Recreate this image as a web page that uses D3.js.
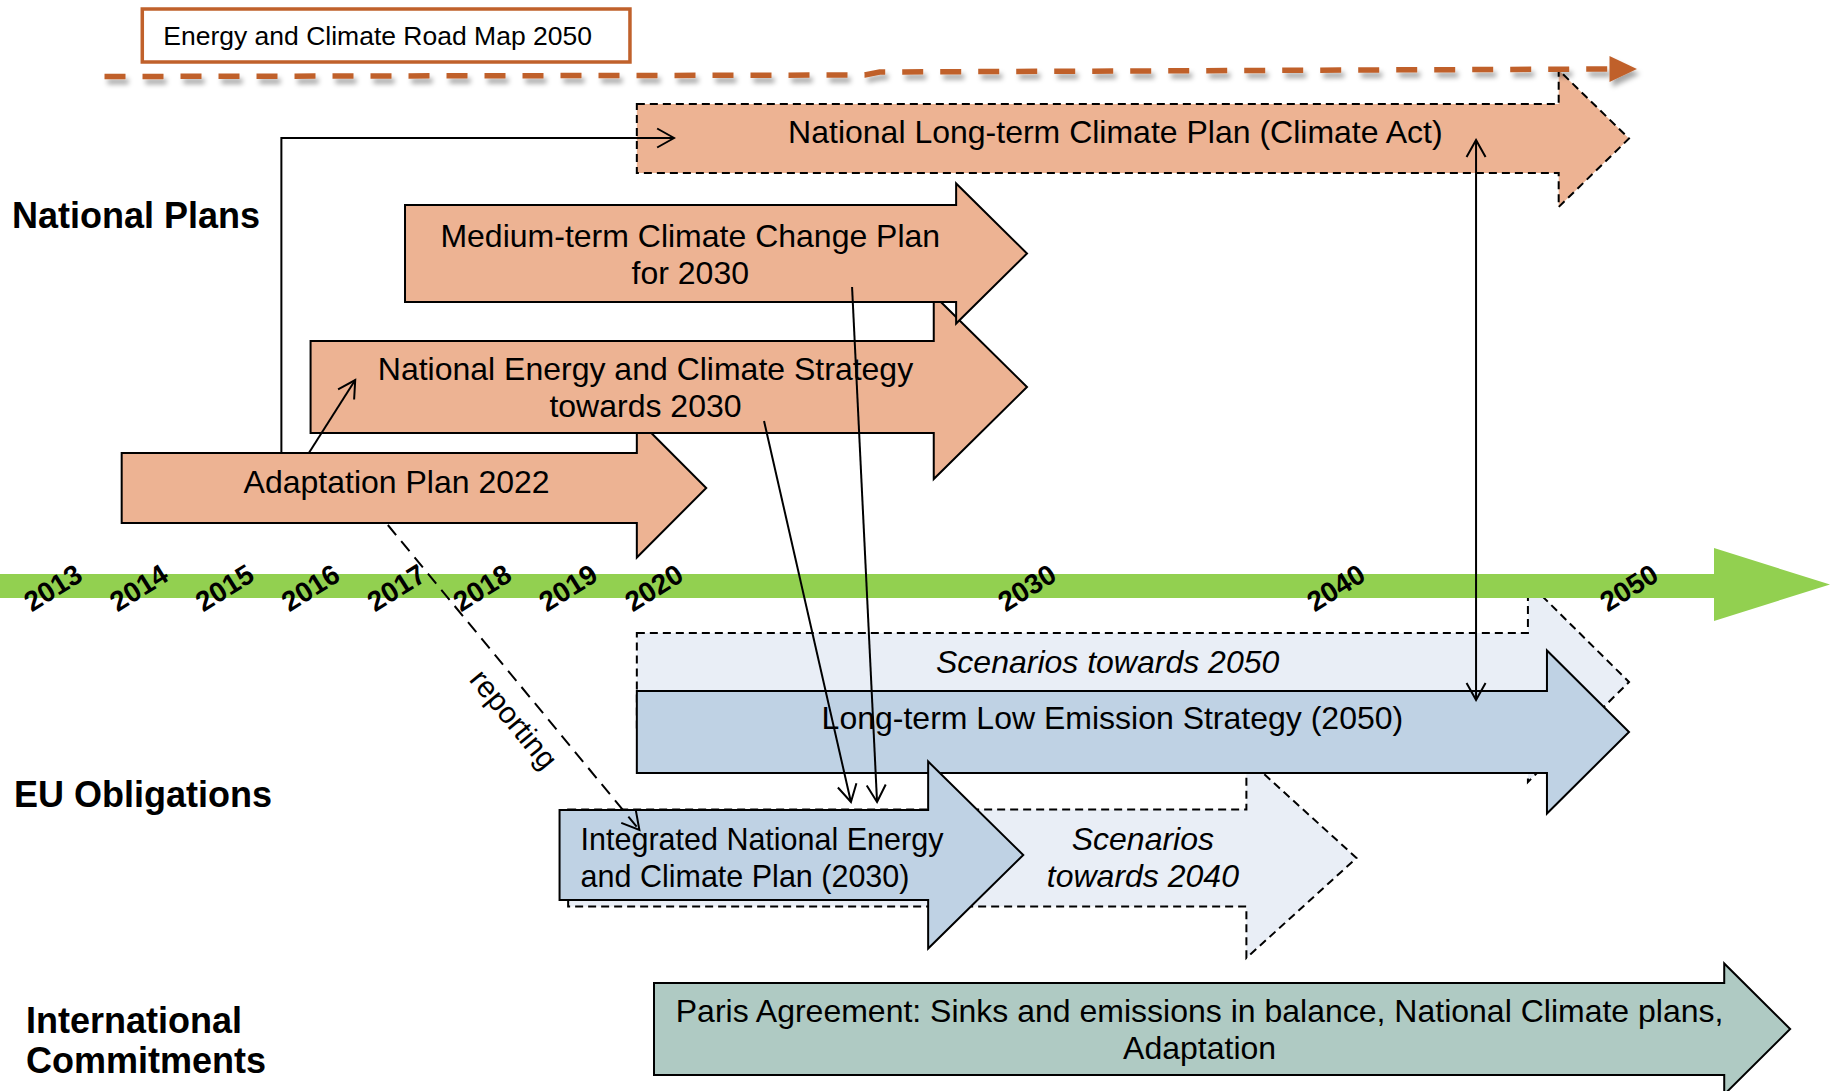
<!DOCTYPE html>
<html>
<head>
<meta charset="utf-8">
<title>Energy and Climate Road Map 2050</title>
<style>
body{margin:0;background:#fff;}
svg{display:block;font-family:"Liberation Sans",Arial,sans-serif;}
.lbl{font-size:32px;fill:#000;}
.sect{font-size:36px;font-weight:bold;fill:#000;}
.yr{font-size:28px;font-weight:bold;fill:#000;}
.link{fill:none;stroke:#000;stroke-width:2px;}
</style>
<script src="https://cdn.jsdelivr.net/npm/d3@7"></script>
</head>
<body>
<div id="chart"></div>
<script>
var width = 1830, height = 1091;

// timeline ticks and the anchor years of the (broken) time scale
var years = [2013, 2014, 2015, 2016, 2017, 2018, 2019, 2020, 2030, 2040, 2050];
var anchorYears = [2013, 2020, 2030, 2040, 2050];

// plan arrows: start year, year where the head starts, tip year
var arrowIds   = ["s2050", "s2040", "adapt", "necs", "mid", "nltcp", "lts", "necp", "paris"];
var arrowStart = [2019.8, 2019.0, 2013.8, 2016.0, 2017.1, 2019.8, 2019.8, 2018.9, 2020.0];
var arrowNeck  = [2046.55, 2037.1, 2019.8, 2027.5, 2028.1, 2047.6, 2047.2, 2027.35, 2053.25];
var arrowTip   = [2050.0, 2040.7, 2021.4, 2030.0, 2030.0, 2050.0, 2050.0, 2029.9, 2055.5];
var arrowText  = [
  ["Scenarios towards 2050"],
  ["Scenarios", "towards 2040"],
  ["Adaptation Plan 2022"],
  ["National Energy and Climate Strategy", "towards 2030"],
  ["Medium-term Climate Change Plan", "for 2030"],
  ["National Long-term Climate Plan (Climate Act)"],
  ["Long-term Low Emission Strategy (2050)"],
  ["Integrated National Energy", "and Climate Plan (2030)"],
  ["Paris Agreement: Sinks and emissions in balance, National Climate plans,", "Adaptation"]
];

var sections = [["National Plans"], ["EU Obligations"], ["International", "Commitments"]];

// connectors between plans: [year, y] points
var linkPts = [
  [[2015.66, 453], [2015.66, 138], [2020.54, 138]],
  [[2015.98, 453], [2016.52, 380]],
  [[2025.31, 287], [2025.98, 802]],
  [[2022.95, 421], [2025.28, 802]],
  [[2044.78, 140], [2044.78, 700]]
];
var reportPts = [[2016.9, 525], [2019.83, 830]];

// road map line
var roadYears = [2013.6, 2025.65, 2026.05, 2049.3];
var roadTipYear = 2050.27;
var roadBoxYears = [2014.04, 2019.72];
var roadTitle = "Energy and Climate Road Map 2050";

// --- layout / style ---
var lane = {
  s2050: {cy: 682, bh: 49, hh: 100, fill: "#E9EEF6", dash: true, base: 673, italic: true},
  s2040: {cy: 858, bh: 48.5, hh: 100, fill: "#E9EEF6", dash: true, base: 850, italic: true, at: 2033.75},
  adapt: {cy: 488, bh: 35, hh: 69.5, fill: "#EDB393", base: 493},
  necs:  {cy: 387, bh: 46, hh: 92, fill: "#EDB393", base: 380},
  mid:   {cy: 253.5, bh: 48.5, hh: 70, fill: "#EDB393", base: 247, shift: -8},
  nltcp: {cy: 138.5, bh: 34.5, hh: 68.5, fill: "#EDB393", dash: true, base: 143},
  lts:   {cy: 732, bh: 41, hh: 81.5, fill: "#BFD2E4", base: 729},
  necp:  {cy: 855, bh: 45, hh: 93.5, fill: "#BFD2E4", base: 850, left: 21, size: 30.5},
  paris: {cy: 1029, bh: 46, hh: 65.5, fill: "#AFCAC3", base: 1022, shift: -6}
};
var lineH = 36.5;
var sectPos = [{x: 12, y: 228}, {x: 14, y: 807}, {x: 26, y: 1033}];
var orange = "#C0612B";

var x = d3.scaleLinear().domain(anchorYears).range([53, 654, 1027, 1336, 1629]);

var svg = d3.select("#chart").append("svg")
  .attr("width", width).attr("height", height);

var defs = svg.append("defs");
defs.append("marker")
  .attr("id", "open").attr("markerUnits", "userSpaceOnUse")
  .attr("viewBox", "-20 -12 22 24").attr("markerWidth", 22).attr("markerHeight", 24)
  .attr("refX", 0).attr("refY", 0).attr("orient", "auto-start-reverse")
  .append("path").attr("d", "M-17,-9.5L0,0L-17,9.5")
  .attr("fill", "none").attr("stroke", "#000").attr("stroke-width", 2);
defs.append("filter").attr("id", "shadow")
  .attr("x", "-5%").attr("y", "-50%").attr("width", "110%").attr("height", "200%")
  .append("feDropShadow").attr("dx", 3).attr("dy", 5).attr("stdDeviation", 2.5)
  .attr("flood-color", "#000").attr("flood-opacity", 0.35);

var line = d3.line();

function arrowShape(x0, xn, xt, L) {
  return line([[x0, L.cy - L.bh], [xn, L.cy - L.bh], [xn, L.cy - L.hh], [xt, L.cy],
    [xn, L.cy + L.hh], [xn, L.cy + L.bh], [x0, L.cy + L.bh]]) + "Z";
}

function drawArrow(i) {
  var L = lane[arrowIds[i]];
  var x0 = x(arrowStart[i]), xn = x(arrowNeck[i]), xt = x(arrowTip[i]);
  var g = svg.append("g");
  g.append("path")
    .attr("d", arrowShape(x0, xn, xt, L))
    .attr("fill", L.fill)
    .attr("stroke", "#000")
    .attr("stroke-width", 2)
    .attr("stroke-dasharray", L.dash ? "8,5" : null)
    .attr("stroke-linejoin", "miter");
  var tx, anchor = "middle";
  if (L.left) { tx = x0 + L.left; anchor = "start"; }
  else if (L.at) { tx = x(L.at); }
  else { tx = (x0 + xn) / 2 + 0.25 * (xt - xn) + (L.shift || 0); }
  var t = g.append("text").attr("class", "lbl")
    .attr("text-anchor", anchor)
    .style("font-size", L.size ? L.size + "px" : null)
    .style("font-style", L.italic ? "italic" : null);
  t.selectAll("tspan").data(arrowText[i]).enter().append("tspan")
    .attr("x", tx)
    .attr("y", function(d, j){ return L.base + j * lineH; })
    .text(function(d){ return d; });
}

// arrows behind the timeline
var beforeAxis = ["s2050"];
arrowIds.forEach(function(id, i){ if (beforeAxis.indexOf(id) >= 0) drawArrow(i); });

// green timeline
var axY = 586, axBH = 12, axHH = 36.5, axNeck = width - 116;
svg.append("path")
  .attr("d", line([[0, axY - axBH], [axNeck, axY - axBH], [axNeck, axY - axHH - 1.5], [width, axY - 1.5],
    [axNeck, axY + axHH - 1.5], [axNeck, axY + axBH], [0, axY + axBH]]) + "Z")
  .attr("fill", "#92D050");

arrowIds.forEach(function(id, i){ if (beforeAxis.indexOf(id) < 0) drawArrow(i); });

svg.selectAll(".yr").data(years).enter().append("text")
  .attr("class", "yr")
  .attr("text-anchor", "middle")
  .attr("dominant-baseline", "central")
  .attr("transform", function(d){ return "translate(" + x(d) + "," + 588 + ") rotate(-32)"; })
  .text(function(d){ return d; });

// connectors
linkPts.forEach(function(pts, k){
  svg.append("path").attr("class", "link")
    .attr("d", line(pts.map(function(p){ return [x(p[0]), p[1]]; })))
    .attr("marker-end", "url(#open)")
    .attr("marker-start", k === 4 ? "url(#open)" : null);
});
var rp = reportPts.map(function(p){ return [x(p[0]), p[1]]; });
svg.append("path").attr("class", "link")
  .attr("d", line(rp))
  .attr("stroke-dasharray", "13,8")
  .attr("marker-end", "url(#open)");
var ang = Math.atan2(rp[1][1] - rp[0][1], rp[1][0] - rp[0][0]) * 180 / Math.PI;
svg.append("text").attr("class", "lbl")
  .attr("text-anchor", "middle").attr("dominant-baseline", "central")
  .style("font-size", "30px")
  .attr("transform", "translate(514,719) rotate(" + ang + ")")
  .text("reporting");

// section titles
sections.forEach(function(lines, i){
  svg.append("text").attr("class", "sect")
    .selectAll("tspan").data(lines).enter().append("tspan")
    .attr("x", sectPos[i].x)
    .attr("y", function(d, j){ return sectPos[i].y + j * 40; })
    .text(function(d){ return d; });
});

// road map 2050 dashed line + box
var roadY = [76.5, 75, 72, 69];
var rg = svg.append("g").attr("filter", "url(#shadow)");
rg.append("path")
  .attr("d", line(roadYears.map(function(yv, i){ return [x(yv), roadY[i]]; })))
  .attr("fill", "none").attr("stroke", orange).attr("stroke-width", 5.5)
  .attr("stroke-dasharray", "21,17");
var ex = x(roadYears[3]) + 1;
rg.append("path")
  .attr("d", line([[ex, 56], [x(roadTipYear), 69], [ex, 82]]) + "Z")
  .attr("fill", orange);

svg.append("rect")
  .attr("x", x(roadBoxYears[0])).attr("y", 9)
  .attr("width", x(roadBoxYears[1]) - x(roadBoxYears[0])).attr("height", 53)
  .attr("fill", "#fff").attr("stroke", orange).attr("stroke-width", 3.5);
svg.append("text").attr("class", "lbl")
  .style("font-size", "26.5px")
  .attr("x", x(roadBoxYears[0]) + 21).attr("y", 45)
  .text(roadTitle);
</script>
</body>
</html>
